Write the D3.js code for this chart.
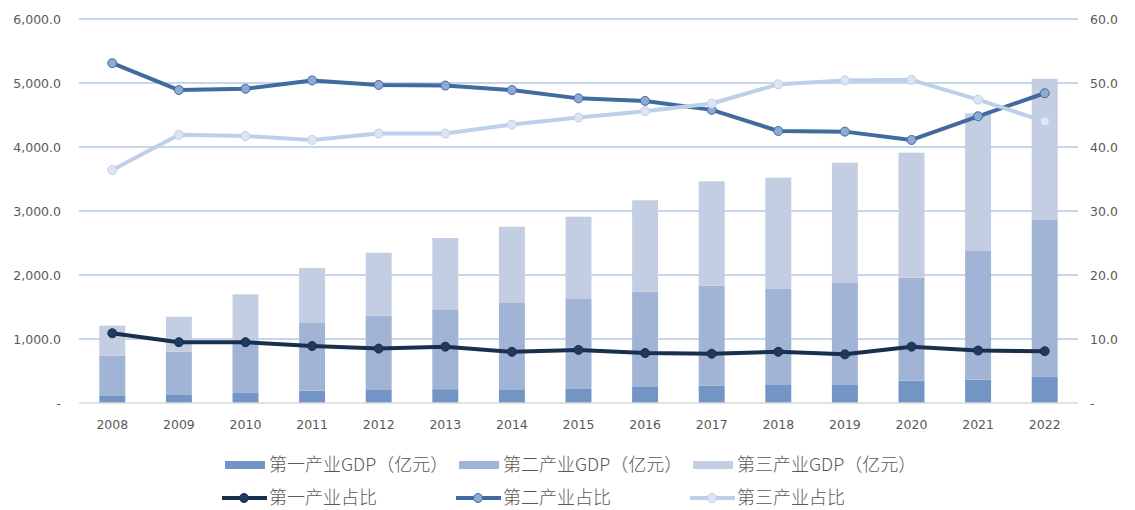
<!DOCTYPE html>
<html>
<head>
<meta charset="utf-8">
<script src="https://cdn.jsdelivr.net/npm/d3@7"></script>
<style>
  body { margin: 0; background: #fff; }
  svg text { font-family: "DejaVu Sans", Verdana, sans-serif; }
  .cjk { font-family: "Noto Sans CJK SC", "Noto Sans", sans-serif; font-weight: 300; }
</style>
</head>
<body>
<div id="chart"></div>
<script>
// 年份
const years = ["2008","2009","2010","2011","2012","2013","2014","2015","2016","2017","2018","2019","2020","2021","2022"];

// 三次产业 GDP（亿元）
const gdp1 = [110, 135, 156, 193, 214, 216, 214, 229, 250, 271, 292, 292, 349, 365, 406];
const gdp2 = [630, 667, 810, 1057, 1151, 1248, 1349, 1396, 1490, 1562, 1489, 1583, 1609, 2020, 2453];
const gdp3 = [468, 547, 732, 859, 984, 1114, 1192, 1286, 1427, 1631, 1740, 1880, 1953, 2141, 2209];

// 三次产业占比（%）
const share1 = [10.9, 9.5, 9.5, 8.9, 8.5, 8.8, 8.0, 8.3, 7.8, 7.7, 8.0, 7.6, 8.8, 8.2, 8.1];
const share2 = [53.1, 48.9, 49.1, 50.4, 49.7, 49.6, 48.9, 47.6, 47.2, 45.8, 42.5, 42.4, 41.1, 44.8, 48.4];
const share3 = [36.4, 41.9, 41.7, 41.1, 42.1, 42.1, 43.5, 44.6, 45.6, 46.8, 49.8, 50.4, 50.5, 47.4, 44.0];

const leftTicks = [0, 1000, 2000, 3000, 4000, 5000, 6000];
const rightTicks = [0, 10, 20, 30, 40, 50, 60];

const barNames = ["第一产业GDP（亿元）", "第二产业GDP（亿元）", "第三产业GDP（亿元）"];
const lineNames = ["第一产业占比", "第二产业占比", "第三产业占比"];

const barColors = ["#7395c6", "#a1b4d6", "#c3cee3"];
const lineColors = ["#182f4f", "#416b9f", "#bdd0e8"];
const markerFills = ["#1f3a5f", "#8eaad4", "#dce5f2"];

const width = 1135, height = 510;
const margin = { left: 79, right: 57, top: 19, bottom: 107 };

const svg = d3.select("#chart").append("svg")
  .attr("width", width).attr("height", height);

const x = d3.scaleBand()
  .domain(years)
  .range([margin.left, width - margin.right]);

const yL = d3.scaleLinear().domain([0, 6000]).range([height - margin.bottom, margin.top]);
const yR = d3.scaleLinear().domain([0, 60]).range([height - margin.bottom, margin.top]);

// 网格线
svg.append("g").selectAll("line")
  .data(leftTicks.filter(d => d > 0))
  .join("line")
  .attr("x1", margin.left).attr("x2", width - margin.right)
  .attr("y1", d => yL(d)).attr("y2", d => yL(d))
  .attr("stroke", "#b4c7e7").attr("stroke-width", 1.3);

// 左轴标签
svg.append("g").selectAll("text")
  .data(leftTicks)
  .join("text")
  .attr("x", 61).attr("y", d => yL(d))
  .attr("dy", "0.36em")
  .attr("text-anchor", "end")
  .style("font-size", "12.5px").style("fill", "#595959")
  .text(d => d === 0 ? "-" : d3.format(",.1f")(d));

// 右轴标签
svg.append("g").selectAll("text")
  .data(rightTicks)
  .join("text")
  .attr("x", 1090).attr("y", d => yR(d))
  .attr("dy", "0.36em")
  .attr("text-anchor", "start")
  .style("font-size", "12.5px").style("fill", "#595959")
  .text(d => d === 0 ? "-" : d3.format(".1f")(d));

// 堆叠柱
const rows = years.map((y, i) => ({ year: y, g1: gdp1[i], g2: gdp2[i], g3: gdp3[i] }));
const stacked = d3.stack().keys(["g1", "g2", "g3"])(rows);
const barW = x.bandwidth() * 0.39;

svg.append("g").selectAll("g")
  .data(stacked)
  .join("g")
  .attr("fill", (d, i) => barColors[i])
  .selectAll("rect")
  .data(d => d)
  .join("rect")
  .attr("x", d => x(d.data.year) + (x.bandwidth() - barW) / 2)
  .attr("width", barW)
  .attr("y", d => yL(d[1]))
  .attr("height", d => yL(d[0]) - yL(d[1]));

// x 轴底线
svg.append("line")
  .attr("x1", margin.left).attr("x2", width - margin.right)
  .attr("y1", yL(0)).attr("y2", yL(0))
  .attr("stroke", "#d9d9d9").attr("stroke-width", 1.3);

// x 轴标签
svg.append("g").selectAll("text")
  .data(years)
  .join("text")
  .attr("x", d => x(d) + x.bandwidth() / 2)
  .attr("y", 429)
  .attr("text-anchor", "middle")
  .style("font-size", "12.5px").style("fill", "#595959")
  .text(d => d);

// 折线
const cx = d => x(d) + x.bandwidth() / 2;
const lineGen = d3.line().x(d => cx(d.year)).y(d => yR(d.v));
[share1, share2, share3].forEach((s, k) => {
  const pts = years.map((y, i) => ({ year: y, v: s[i] }));
  const g = svg.append("g");
  g.append("path")
    .datum(pts)
    .attr("d", lineGen)
    .attr("fill", "none")
    .attr("stroke", lineColors[k])
    .attr("stroke-width", 4)
    .attr("stroke-linejoin", "round");
  g.selectAll("circle")
    .data(pts)
    .join("circle")
    .attr("cx", d => cx(d.year)).attr("cy", d => yR(d.v))
    .attr("r", 4.5)
    .attr("fill", markerFills[k])
    .attr("stroke", lineColors[k])
    .attr("stroke-width", 1);
});

// 图例
const legX = [269, 503, 737];
const leg1 = svg.append("g");
barNames.forEach((n, i) => {
  leg1.append("rect")
    .attr("x", legX[i] - 44).attr("y", 461)
    .attr("width", 40).attr("height", 8)
    .attr("fill", barColors[i]);
  leg1.append("text")
    .attr("class", "cjk")
    .attr("x", legX[i]).attr("y", 465)
    .attr("dy", "0.36em")
    .style("font-size", "18px").style("fill", "#595959")
    .text(n);
});
const leg2 = svg.append("g");
lineNames.forEach((n, i) => {
  const lx = legX[i] - 47;
  leg2.append("line")
    .attr("x1", lx).attr("x2", lx + 45)
    .attr("y1", 498).attr("y2", 498)
    .attr("stroke", lineColors[i]).attr("stroke-width", 4);
  leg2.append("circle")
    .attr("cx", lx + 22).attr("cy", 498).attr("r", 4.5)
    .attr("fill", markerFills[i]).attr("stroke", lineColors[i]);
  leg2.append("text")
    .attr("class", "cjk")
    .attr("x", legX[i]).attr("y", 498)
    .attr("dy", "0.36em")
    .style("font-size", "18px").style("fill", "#595959")
    .text(n);
});
</script>
</body>
</html>
